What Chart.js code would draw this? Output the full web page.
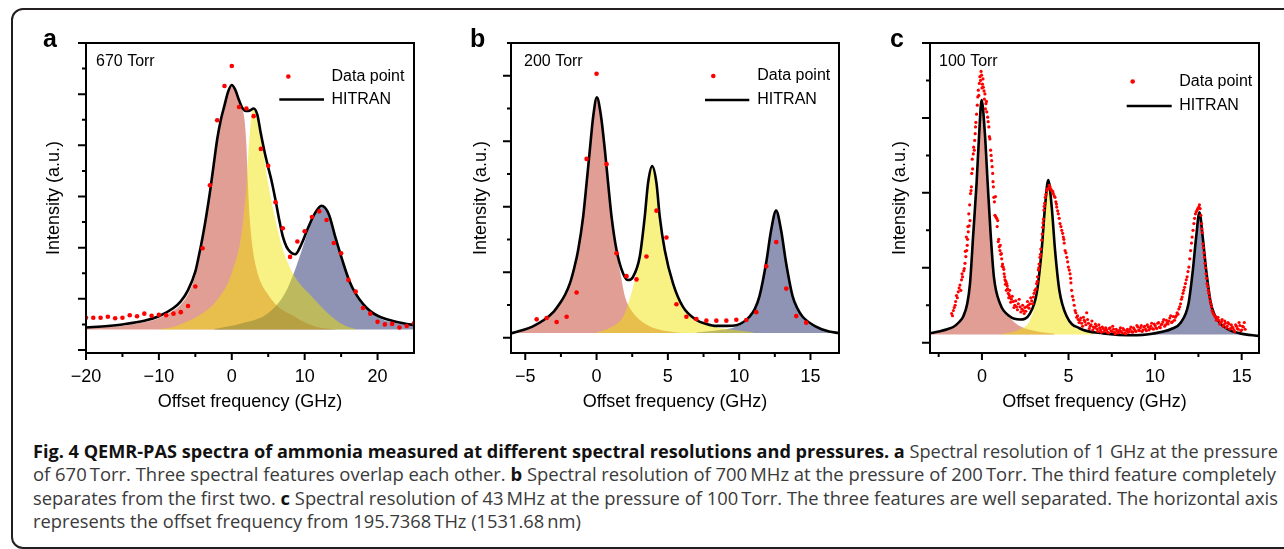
<!DOCTYPE html>
<html><head><meta charset="utf-8">
<script src="https://cdn.jsdelivr.net/npm/chart.js@4.4.1/dist/chart.umd.min.js"></script>
<style>
html,body{margin:0;padding:0;background:#fff;width:1284px;height:549px;overflow:hidden;position:relative;}
#frame{position:absolute;left:11px;top:8px;width:1300px;height:541px;box-sizing:border-box;border:2px solid #231f20;border-radius:12px;}
canvas{position:absolute;top:0;}
.cap{position:absolute;left:33px;white-space:nowrap;font-family:"Open Sans";font-size:18px;line-height:24px;color:#3a3a3a;transform-origin:0 0;}
.cap b{color:#111;font-weight:700;}
</style></head><body>
<div id="frame"></div>
<canvas id="ca" width="430" height="420" style="left:0px"></canvas>
<canvas id="cb" width="430" height="420" style="left:430px"></canvas>
<canvas id="cc" width="424" height="420" style="left:860px"></canvas>
<div class="cap" id="l1" style="top:439px"><b>Fig. 4 QEMR-PAS spectra of ammonia measured at different spectral resolutions and pressures.</b> <b>a</b> Spectral resolution of 1 GHz at the pressure</div>
<div class="cap" id="l2" style="top:462px">of 670&thinsp;Torr. Three spectral features overlap each other. <b>b</b> Spectral resolution of 700&thinsp;MHz at the pressure of 200&thinsp;Torr. The third feature completely</div>
<div class="cap" id="l3" style="top:485.5px">separates from the first two. <b>c</b> Spectral resolution of 43&thinsp;MHz at the pressure of 100&thinsp;Torr. The three features are well separated. The horizontal axis</div>
<div class="cap" id="l4" style="top:509px">represents the offset frequency from 195.7368&thinsp;THz (1531.68&thinsp;nm)</div>
<script>
// ---------------- Panel a (670 Torr) ----------------
const aData = [[-20,0.63],[-19,0.63],[-18,0.63],[-17,0.65],[-16,0.62],[-15,0.63],[-14,0.68],[-13,0.66],[-12,0.71],[-11,0.67],[-10,0.69],[-9,0.68],[-8,0.71],[-7,0.74],[-6,0.86],[-5,1.24],[-4,1.99],[-3,3.22],[-2,4.49],[-1,5.16],[0,5.55],[1,4.75],[2,4.72],[3,4.57],[4,3.93],[5,3.60],[6,2.89],[7,2.38],[8,1.82],[9,2.12],[10,2.32],[11,2.60],[12,2.71],[13,2.54],[14,2.09],[15,1.89],[16,1.37],[17,1.14],[18,0.82],[19,0.71],[20,0.55],[21,0.50],[22,0.51],[23,0.44],[24,0.47],[25,0.52]];
const aHitran = [[-20,0.44],[-17,0.47],[-15,0.50],[-12,0.57],[-10,0.66],[-8,0.82],[-7,0.95],[-6,1.17],[-5,1.53],[-4.5,1.85],[-4,2.21],[-3.5,2.62],[-3,3.08],[-2.5,3.60],[-2,4.12],[-1.5,4.50],[-1,4.78],[-0.5,5.05],[0,5.18],[0.5,5.08],[1,4.88],[1.5,4.72],[2,4.67],[2.5,4.68],[3,4.72],[3.5,4.60],[4,4.22],[4.5,3.87],[5,3.57],[5.5,3.28],[6,2.93],[6.5,2.55],[7,2.22],[7.5,2.02],[8,1.92],[8.7,1.87],[9.5,2.05],[10.5,2.40],[11.4,2.67],[12.3,2.82],[13.3,2.66],[14.2,2.21],[15.2,1.74],[16.1,1.36],[17,1.10],[18,0.90],[19,0.76],[20,0.67],[22,0.57],[24,0.51],[25,0.49]];
const aPink = [[-20,0.43],[-15,0.47],[-12,0.54],[-10,0.62],[-8,0.77],[-7,0.89],[-6,1.09],[-5,1.45],[-4.5,1.75],[-4,2.12],[-3.5,2.55],[-3,3.0],[-2.5,3.52],[-2,4.05],[-1.5,4.45],[-1,4.74],[-0.5,5.03],[0,5.2],[0.5,5.08],[1,4.86],[1.5,4.68],[1.75,4.5],[2.0,4.02],[2.2,3.3],[2.45,2.6],[2.9,1.95],[3.4,1.58],[4.05,1.30],[5,1.08],[5.9,0.91],[7,0.78],[8.66,0.65],[10,0.54],[11.4,0.46],[13,0.42],[14.5,0.40]];
const aYellow = [[-10,0.41],[-8,0.45],[-5.6,0.59],[-4,0.72],[-2.4,0.91],[-1.5,1.08],[-0.55,1.30],[0.2,1.6],[0.83,1.89],[1.2,2.15],[1.52,2.47],[1.75,2.8],[1.98,3.13],[2.2,3.71],[2.44,4.17],[2.67,4.56],[3.0,4.70],[3.3,4.62],[3.6,4.4],[4.3,3.88],[4.98,3.26],[5.9,2.6],[7.05,1.95],[8.66,1.43],[11,1.04],[13.7,0.65],[15.5,0.48],[17,0.41]];
const aBlue = [[-2.4,0.41],[1.3,0.52],[4.98,0.72],[7.3,1.11],[8.66,1.56],[9.6,1.95],[10.5,2.34],[11.4,2.70],[12.35,2.80],[13.3,2.64],[14.2,2.18],[15.2,1.70],[16.1,1.32],[17.4,0.98],[18,0.87],[20,0.64],[22,0.54],[25,0.47]];
const aBase = 0.40;
const aXTicks = [-20,-10,0,10,20];
const aXTickLabels = ['\u221220','\u221210','0','10','20'];
const aXMinor = [-15,-5,5,15];
const aYMajor = [0,1,2,3,4,5,6];
const aYMinor = [0.5,1.5,2.5,3.5,4.5,5.5];

// ---------------- Panel b (200 Torr) ----------------
const bData = [[-4.2,0.28],[-3.5,0.30],[-2.8,0.24],[-2.1,0.32],[-1.4,0.69],[-0.7,2.73],[0,4.03],[0.7,2.65],[1.4,1.29],[2.1,0.94],[2.8,0.89],[3.5,1.24],[4.2,1.94],[4.9,1.53],[5.6,0.51],[6.3,0.32],[7.0,0.285],[7.7,0.26],[8.4,0.26],[9.1,0.26],[9.8,0.275],[10.5,0.27],[11.2,0.39],[11.9,1.09],[12.6,1.46],[13.3,0.75],[14.0,0.33],[14.7,0.23]];
const bHitran = [[-6,0.067],[-5.1,0.12],[-4.5,0.17],[-3.7,0.27],[-3.0,0.40],[-2.57,0.525],[-2.2,0.66],[-1.87,0.83],[-1.55,1.08],[-1.29,1.34],[-0.94,1.85],[-0.70,2.36],[-0.47,2.87],[-0.24,3.37],[0.02,3.67],[0.3,3.4],[0.58,2.87],[0.81,2.36],[1.05,1.85],[1.4,1.34],[1.86,0.98],[2.21,0.88],[2.56,0.93],[3.03,1.24],[3.38,1.85],[3.61,2.36],[3.9,2.62],[4.2,2.36],[4.43,1.85],[4.78,1.34],[5.36,0.83],[6.06,0.47],[7.0,0.27],[7.7,0.21],[8.4,0.18],[9.1,0.18],[9.8,0.19],[10.3,0.24],[10.72,0.32],[11.1,0.44],[11.42,0.63],[11.89,1.14],[12.24,1.64],[12.59,1.94],[12.94,1.64],[13.29,1.14],[13.75,0.63],[14.1,0.44],[14.45,0.32],[15.38,0.17],[16.3,0.095],[17,0.07]];
const bPink = [[-6,0.07],[-5,0.12],[-4,0.22],[-3,0.38],[-2.5,0.53],[-2,0.76],[-1.55,1.06],[-1.29,1.32],[-0.94,1.83],[-0.7,2.34],[-0.47,2.85],[-0.24,3.35],[0.02,3.65],[0.3,3.38],[0.58,2.85],[0.81,2.34],[1.05,1.83],[1.4,1.3],[1.7,0.95],[2.0,0.62],[2.4,0.43],[2.8,0.32],[3.5,0.2],[4.0,0.15],[5.0,0.1],[6.0,0.07]];
const bYellow = [[0.0,0.08],[0.93,0.15],[1.86,0.32],[2.33,0.6],[2.68,0.88],[3.03,1.24],[3.38,1.85],[3.61,2.36],[3.9,2.6],[4.2,2.34],[4.43,1.83],[4.78,1.32],[5.36,0.81],[6.06,0.46],[7.0,0.26],[8.4,0.16],[9.5,0.12],[11,0.08]];
const bBlue = [[7.0,0.08],[8.4,0.11],[9.8,0.17],[10.72,0.3],[11.42,0.61],[11.89,1.12],[12.24,1.62],[12.59,1.92],[12.94,1.62],[13.29,1.12],[13.75,0.61],[14.45,0.3],[15.38,0.16],[16.3,0.09],[17,0.07]];
const bBase = 0.07;
const bXTicks = [-5,0,5,10,15];
const bXTickLabels = ['\u22125','0','5','10','15'];
const bXMinor = [-2.5,2.5,7.5,12.5];
const bYMajor = [0,1,2,3,4];
const bYMinor = [0.5,1.5,2.5,3.5,4.5];

// ---------------- Panel c (100 Torr) ----------------
// first sweep of readings
const cData = [[-1.75,0.39],[-1.65,0.43],[-1.55,0.50],[-1.47,0.63],[-1.37,0.68],[-1.27,0.77],[-1.18,0.84],[-1.12,0.88],[-1.05,0.96],[-0.98,1.06],[-0.93,1.15],[-0.88,1.23],[-0.83,1.38],[-0.79,1.48],[-0.74,1.56],[-0.69,1.63],[-0.66,1.99],[-0.63,2.03],[-0.59,2.26],[-0.54,2.32],[-0.50,2.52],[-0.44,2.57],[-0.39,2.79],[-0.35,2.94],[-0.31,3.05],[-0.27,3.17],[-0.21,3.37],[-0.15,3.46],[-0.08,3.50],[-0.02,3.57],[0.03,3.45],[0.08,3.41],[0.12,3.36],[0.17,3.32],[0.23,3.19],[0.28,3.08],[0.33,3.01],[0.40,2.88],[0.46,2.72],[0.50,2.57],[0.56,2.43],[0.62,2.26],[0.66,2.08],[0.69,1.94],[0.75,1.70],[0.80,1.68],[0.85,1.66],[0.91,1.63],[0.94,1.35],[1.00,1.28],[1.04,1.23],[1.09,1.18],[1.14,1.12],[1.19,1.05],[1.23,1.01],[1.28,0.92],[1.33,0.84],[1.38,0.82],[1.43,0.79],[1.48,0.72],[1.52,0.66],[1.57,0.64],[1.62,0.61],[1.70,0.58],[1.81,0.55],[1.90,0.50],[2.00,0.48],[2.10,0.52],[2.20,0.48],[2.30,0.45],[2.39,0.43],[2.48,0.47],[2.58,0.48],[2.68,0.50],[2.77,0.52],[2.87,0.56],[2.97,0.61],[3.06,0.70],[3.16,0.79],[3.21,0.88],[3.26,0.97],[3.30,1.05],[3.35,1.14],[3.40,1.25],[3.45,1.37],[3.51,1.54],[3.55,1.65],[3.58,1.77],[3.62,1.86],[3.66,1.94],[3.74,2.03],[3.83,2.06],[3.93,2.08],[4.03,2.03],[4.12,1.99],[4.22,1.94],[4.27,1.88],[4.32,1.81],[4.41,1.72],[4.51,1.59],[4.61,1.50],[4.70,1.41],[4.75,1.33],[4.80,1.23],[4.90,1.14],[4.99,1.01],[5.09,0.92],[5.14,0.80],[5.18,0.70],[5.28,0.57],[5.38,0.43],[5.47,0.34],[5.56,0.31],[5.66,0.30],[5.76,0.26],[5.86,0.34],[5.95,0.28],[6.05,0.40],[6.15,0.26],[6.25,0.22],[6.35,0.29],[6.44,0.21],[6.55,0.25],[6.65,0.18],[6.75,0.24],[6.85,0.17],[6.95,0.21],[7.05,0.15],[7.15,0.20],[7.25,0.14],[7.35,0.19],[7.45,0.16],[7.55,0.22],[7.65,0.14],[7.75,0.18],[7.85,0.13],[7.95,0.17],[8.05,0.15],[8.15,0.19],[8.25,0.13],[8.35,0.16],[8.45,0.14],[8.55,0.18],[8.65,0.15],[8.75,0.20],[8.85,0.16],[8.95,0.23],[9.05,0.17],[9.15,0.20],[9.25,0.15],[9.35,0.21],[9.45,0.18],[9.55,0.24],[9.65,0.17],[9.75,0.22],[9.85,0.19],[9.95,0.25],[10.05,0.20],[10.15,0.26],[10.25,0.21],[10.35,0.24],[10.45,0.28],[10.55,0.22],[10.65,0.30],[10.75,0.25],[10.85,0.33],[10.95,0.27],[11.05,0.35],[11.17,0.34],[11.27,0.40],[11.37,0.45],[11.47,0.52],[11.56,0.61],[11.65,0.70],[11.75,0.79],[11.85,0.88],[11.95,1.01],[12.05,1.23],[12.14,1.41],[12.24,1.59],[12.33,1.72],[12.43,1.77],[12.52,1.81],[12.56,1.84],[12.60,1.79],[12.68,1.59],[12.72,1.47],[12.76,1.32],[12.82,1.20],[12.88,1.06],[12.94,0.92],[13.00,0.79],[13.07,0.70],[13.14,0.61],[13.22,0.52],[13.29,0.43],[13.39,0.38],[13.49,0.34],[13.58,0.32],[13.68,0.30],[13.78,0.27],[13.87,0.31],[13.97,0.24],[14.06,0.26],[14.16,0.22],[14.26,0.25],[14.35,0.19],[14.45,0.21],[14.55,0.17],[14.65,0.24],[14.75,0.19],[14.85,0.27],[14.95,0.16],[15.05,0.22],[15.15,0.27],[15.20,0.18]];
// second sweep of readings (interleaved scan points)
const cData2 = [[-1.70,0.36],[-1.60,0.47],[-1.52,0.55],[-1.42,0.60],[-1.32,0.73],[-1.22,0.70],[-1.15,0.92],[-1.02,0.99],[-0.96,1.22],[-0.90,1.41],[-0.85,1.30],[-0.81,1.55],[-0.76,1.72],[-0.71,1.84],[-0.61,2.08],[-0.56,2.45],[-0.48,2.61],[-0.42,2.70],[-0.37,2.88],[-0.24,3.28],[-0.18,3.30],[-0.12,3.55],[-0.05,3.62],[0.00,3.40],[0.06,3.52],[0.14,3.25],[0.20,3.12],[0.26,3.22],[0.36,2.95],[0.43,2.75],[0.53,2.50],[0.59,2.35],[0.64,2.15],[0.72,1.88],[0.78,1.95],[0.88,1.55],[0.97,1.38],[1.06,1.30],[1.12,1.19],[1.17,1.02],[1.26,0.98],[1.31,0.88],[1.36,0.78],[1.41,0.70],[1.46,0.76],[1.55,0.60],[1.60,0.70],[1.66,0.54],[1.75,0.62],[1.85,0.47],[1.95,0.56],[2.05,0.44],[2.15,0.58],[2.25,0.41],[2.35,0.50],[2.44,0.39],[2.53,0.42],[2.63,0.55],[2.72,0.46],[2.82,0.60],[2.92,0.52],[3.01,0.66],[3.12,0.72],[3.20,0.82],[3.28,1.00],[3.38,1.18],[3.48,1.45],[3.53,1.60],[3.60,1.82],[3.70,1.98],[3.78,2.05],[3.88,2.10],[3.98,2.05],[4.08,2.02],[4.17,1.96],[4.30,1.85],[4.37,1.76],[4.46,1.66],[4.56,1.55],[4.66,1.46],[4.73,1.38],[4.85,1.20],[4.95,1.08],[5.04,0.97],[5.12,0.86],[5.23,0.62],[5.33,0.50],[5.42,0.40],[5.52,0.36],[5.61,0.27],[5.71,0.33],[5.81,0.22],[5.91,0.30],[6.00,0.24],[6.10,0.31],[6.20,0.19],[6.30,0.24],[6.40,0.17],[6.50,0.20],[6.60,0.22],[6.70,0.15],[6.80,0.20],[6.90,0.14],[7.00,0.19],[7.10,0.17],[7.20,0.17],[7.30,0.13],[7.40,0.20],[7.50,0.15],[7.60,0.18],[7.70,0.12],[7.80,0.16],[7.90,0.14],[8.00,0.20],[8.10,0.13],[8.20,0.17],[8.30,0.12],[8.40,0.18],[8.50,0.15],[8.60,0.21],[8.70,0.14],[8.80,0.18],[8.90,0.15],[9.00,0.21],[9.10,0.16],[9.20,0.23],[9.30,0.17],[9.40,0.22],[9.50,0.16],[9.60,0.21],[9.70,0.19],[9.80,0.26],[9.90,0.18],[10.00,0.23],[10.10,0.19],[10.20,0.27],[10.30,0.20],[10.40,0.25],[10.50,0.31],[10.60,0.24],[10.70,0.27],[10.80,0.29],[10.90,0.36],[11.00,0.28],[11.12,0.30],[11.22,0.36],[11.32,0.38],[11.42,0.48],[11.52,0.58],[11.61,0.66],[11.70,0.74],[11.80,0.84],[11.90,0.95],[12.00,1.12],[12.10,1.33],[12.19,1.50],[12.28,1.66],[12.38,1.75],[12.47,1.79],[12.64,1.70],[12.70,1.52],[12.79,1.27],[12.85,1.14],[12.91,1.00],[12.97,0.86],[13.04,0.75],[13.10,0.66],[13.18,0.56],[13.25,0.48],[13.34,0.40],[13.44,0.36],[13.54,0.30],[13.63,0.34],[13.73,0.25],[13.83,0.28],[13.92,0.22],[14.02,0.29],[14.11,0.20],[14.21,0.27],[14.31,0.18],[14.40,0.24],[14.50,0.20],[14.60,0.15],[14.70,0.22],[14.80,0.18],[14.90,0.23],[15.00,0.17],[15.10,0.21]];
const cHitran = [[-3,0.125],[-2.5,0.15],[-2,0.18],[-1.66,0.21],[-1.3,0.28],[-1.08,0.35],[-0.85,0.52],[-0.69,0.79],[-0.5,1.46],[-0.31,2.13],[-0.16,2.79],[-0.02,3.24],[0.17,2.79],[0.33,2.13],[0.5,1.46],[0.69,0.88],[1.04,0.525],[1.62,0.35],[2.2,0.31],[2.77,0.39],[3.16,0.66],[3.45,1.24],[3.64,1.81],[3.83,2.17],[4.03,1.81],[4.22,1.24],[4.47,0.70],[4.9,0.35],[5.66,0.19],[7.01,0.125],[8.94,0.10],[10.48,0.15],[11.0,0.19],[11.45,0.26],[11.93,0.525],[12.18,0.97],[12.37,1.41],[12.56,1.74],[12.75,1.41],[12.95,0.97],[13.22,0.525],[13.76,0.26],[14.3,0.17],[14.9,0.125],[16,0.09]];
const cPink = [[-3,0.12],[-2,0.17],[-1.66,0.2],[-1.3,0.27],[-1.08,0.34],[-0.85,0.5],[-0.69,0.77],[-0.5,1.44],[-0.31,2.11],[-0.16,2.77],[-0.02,3.22],[0.17,2.77],[0.33,2.11],[0.5,1.44],[0.69,0.86],[1.04,0.5],[1.62,0.33],[2.2,0.22],[3.2,0.15],[4.2,0.12]];
const cYellow = [[1.2,0.12],[2.2,0.18],[2.77,0.30],[3.16,0.62],[3.45,1.22],[3.64,1.79],[3.83,2.15],[4.03,1.79],[4.22,1.22],[4.47,0.68],[4.9,0.33],[5.66,0.17],[6.5,0.12]];
const cBlue = [[7.5,0.11],[9,0.12],[10.48,0.14],[11.0,0.18],[11.45,0.25],[11.93,0.51],[12.18,0.95],[12.37,1.39],[12.56,1.72],[12.75,1.39],[12.95,0.95],[13.22,0.51],[13.76,0.25],[14.3,0.16],[14.9,0.12],[16,0.09]];
const cBase = 0.11;
const cXTicks = [0,5,10,15];
const cXTickLabels = ['0','5','10','15'];
const cXMinor = [-2.5,2.5,7.5,12.5];
const cYMajor = [0,1,2,3,4];
const cYMinor = [0.5,1.5,2.5,3.5];

const legendLabels = ['Data point','HITRAN'];
const axisTitles = {x:'Offset frequency (GHz)', y:'Intensity (a.u.)'};

// ---------------- drawing ----------------
const FONT = '"Liberation Sans", Arial, sans-serif';
const COLORS = {pink:'rgba(196,62,42,0.5)', yellow:'rgba(240,228,0,0.48)', blue:'rgba(32,42,108,0.5)', red:'#ff0000', black:'#000000'};

const panelDeco = {
  id:'panelDeco',
  afterDraw(chart, args, o){
    const ctx = chart.ctx, ca = chart.chartArea, xs = chart.scales.x, ys = chart.scales.y;
    ctx.save();
    ctx.strokeStyle = '#000'; ctx.lineWidth = 2; ctx.lineCap = 'butt';
    ctx.strokeRect(ca.left, ca.top, ca.right - ca.left, ca.bottom - ca.top);
    ctx.beginPath();
    o.yMajor.forEach(v => { const p = ys.getPixelForValue(v); ctx.moveTo(ca.left - 8, p); ctx.lineTo(ca.left, p); });
    o.yMinor.forEach(v => { const p = ys.getPixelForValue(v); ctx.moveTo(ca.left - 4, p); ctx.lineTo(ca.left, p); });
    o.xMajor.forEach(v => { const p = xs.getPixelForValue(v); ctx.moveTo(p, ca.bottom); ctx.lineTo(p, ca.bottom + 7); });
    o.xMinor.forEach(v => { const p = xs.getPixelForValue(v); ctx.moveTo(p, ca.bottom); ctx.lineTo(p, ca.bottom + 4); });
    ctx.stroke();
    ctx.fillStyle = '#000'; ctx.textAlign = 'left'; ctx.textBaseline = 'alphabetic';
    ctx.font = 'bold 25px ' + FONT;
    ctx.fillText(o.letter, o.letterX, 47);
    ctx.font = '16px ' + FONT;
    ctx.fillText(o.pressure, o.pressX, 66);
    ctx.textBaseline = 'middle';
    ctx.fillText(legendLabels[0], o.legX, o.legY1);
    ctx.fillText(legendLabels[1], o.legX, o.legY2);
    ctx.fillStyle = COLORS.red; ctx.beginPath(); ctx.arc(o.dotX, o.legY1, o.dotR, 0, 2 * Math.PI); ctx.fill();
    ctx.strokeStyle = '#000'; ctx.lineWidth = 2.6; ctx.beginPath(); ctx.moveTo(o.lineX1, o.legY2); ctx.lineTo(o.lineX2, o.legY2); ctx.stroke();
    ctx.restore();
  }
};

function pts(arr){ return arr.map(p => ({x:p[0], y:p[1]})); }
function fillDs(arr, color, base, order){
  return {data:pts(arr), fill:{value:base}, backgroundColor:color, borderColor:'rgba(0,0,0,0)', borderWidth:0,
          pointRadius:0, cubicInterpolationMode:'monotone', order};
}

function makePanel(id, P){
  return new Chart(document.getElementById(id), {
    type:'line',
    data:{datasets:[
      {data:pts(P.data), showLine:false, pointRadius:P.dotR, pointBackgroundColor:COLORS.red, pointBorderWidth:0, pointBorderColor:'rgba(0,0,0,0)', order:0},
      {data:pts(P.hitran), borderColor:COLORS.black, borderWidth:2.6, pointRadius:0, fill:false, cubicInterpolationMode:'monotone', order:1},
      fillDs(P.yellow, COLORS.yellow, P.base, 2),
      fillDs(P.blue, COLORS.blue, P.base, 3),
      fillDs(P.pink, COLORS.pink, P.base, 4)
    ]},
    options:{
      responsive:false, animation:false, devicePixelRatio:1, events:[],
      layout:{padding:{left:0, top:43, right:P.right, bottom:0}},
      plugins:{legend:{display:false}, tooltip:{enabled:false}, panelDeco:P.deco},
      scales:{
        x:{type:'linear', min:P.xmin, max:P.xmax,
           afterFit(s){ s.height = 67; },
           afterBuildTicks(s){ s.ticks = P.xTicks.map(v => ({value:v})); },
           grid:{display:false, drawTicks:false}, border:{display:false},
           ticks:{font:{family:FONT, size:18}, color:'#000', padding:13.7, maxRotation:0, autoSkip:false,
                  callback:(v, i) => P.xLabels[i]},
           title:{display:true, text:axisTitles.x, font:{family:FONT, size:18}, color:'#000', padding:{top:0, bottom:7.2}}},
        y:{type:'linear', min:P.ymin, max:P.ymax,
           afterFit(s){ s.width = P.left; },
           grid:{display:false, drawTicks:false}, border:{display:false},
           ticks:{display:false},
           title:{display:true, text:axisTitles.y, font:{family:FONT, size:18}, color:'#000', padding:{top:P.yTitlePad, bottom:0}}}
      }
    },
    plugins:[panelDeco]
  });
}

makePanel('ca', {data:aData, hitran:aHitran, pink:aPink, yellow:aYellow, blue:aBlue, base:aBase,
  xmin:-20, xmax:25, ymin:-0.0586, ymax:6.0, left:86, right:16, yTitlePad:43.2, dotR:2.3,
  xTicks:aXTicks, xLabels:aXTickLabels,
  deco:{yMajor:aYMajor, yMinor:aYMinor, xMajor:aXTicks, xMinor:aXMinor, letter:'a', letterX:43, pressure:'670 Torr', pressX:96,
        legX:331.5, legY1:76.5, legY2:99.5, dotX:288.3, dotR:2.3, lineX1:279.3, lineX2:324}});

makePanel('cb', {data:bData, hitran:bHitran, pink:bPink, yellow:bYellow, blue:bBlue, base:bBase,
  xmin:-6, xmax:17, ymin:-0.2336, ymax:4.5, left:81, right:21, yTitlePad:40.2, dotR:2.3,
  xTicks:bXTicks, xLabels:bXTickLabels,
  deco:{yMajor:bYMajor, yMinor:bYMinor, xMajor:bXTicks, xMinor:bXMinor, letter:'b', letterX:40, pressure:'200 Torr', pressX:94,
        legX:327.3, legY1:76, legY2:100, dotX:283.3, dotR:2.3, lineX1:275, lineX2:319.3}});

makePanel('cc', {data:cData.concat(cData2).sort((p, q) => p[0] - q[0]), hitran:cHitran, pink:cPink, yellow:cYellow, blue:cBlue, base:cBase,
  xmin:-3, xmax:16, ymin:-0.137, ymax:4.0, left:70, right:25, yTitlePad:29.2, dotR:1.6,
  xTicks:cXTicks, xLabels:cXTickLabels,
  deco:{yMajor:cYMajor, yMinor:cYMinor, xMajor:cXTicks, xMinor:cXMinor, letter:'c', letterX:30, pressure:'100 Torr', pressX:79,
        legX:319.3, legY1:81.5, legY2:106, dotX:272.7, dotR:2.3, lineX1:266.7, lineX2:311.7}});

// caption fitting (justified lines)
function fitCaption(){
  const targets = {l1:1245, l2:1243, l3:1245};
  let sum = 0, n = 0;
  for (const id in targets){
    const el = document.getElementById(id);
    el.style.transform = 'none';
    const w = el.getBoundingClientRect().width;
    const s = targets[id] / w;
    el.style.transform = 'scaleX(' + s + ')';
    sum += s; n++;
  }
  const l4 = document.getElementById('l4');
  l4.style.transform = 'scaleX(' + (sum / n) + ')';
}
fitCaption();
if (document.fonts && document.fonts.ready) document.fonts.ready.then(fitCaption);
</script>
</body></html>
